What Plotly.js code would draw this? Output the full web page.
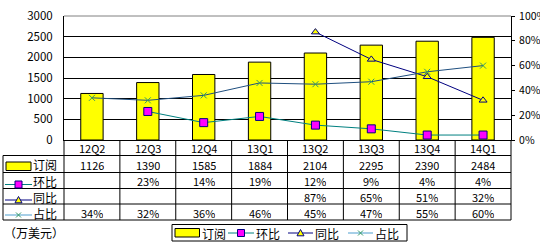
<!DOCTYPE html>
<html><head><meta charset="utf-8">
<script src="https://cdn.plot.ly/plotly-3.0.1.min.js"></script>
<style>html,body{margin:0;padding:0;background:#fff;}#chart{width:540px;height:246px;}</style>
</head><body><div id="chart"></div>
<script>
const categories = ['12Q2','12Q3','12Q4','13Q1','13Q2','13Q3','13Q4','14Q1'];
const subscriptions = [1126,1390,1585,1884,2104,2295,2390,2484];
const qoqPct = [null,23,14,19,12,9,4,4];
const yoyPct = [null,null,null,null,87,65,51,32];
const sharePct = [34,32,36,46,45,47,55,60];
const seriesNames = ['订阅','环比','同比','占比'];
const unitLabel = '（万美元）';
const leftTicks = [0,500,1000,1500,2000,2500,3000];
const rightTicks = [0,0.2,0.4,0.6,0.8,1.0];

const FONT = 'Noto Sans CJK SC, Noto Sans, sans-serif';
const L=64, R=511, T=16, B=140, W=R-L, H=B-T;
const px = x => (x-L)/W;
const py = y => (B-y)/H;

const cBar='#FFFF00', cQoqLine='#008080', cQoqMk='#FF00FF', cNavy='#000080', cShareLine='#1F4F7F', cShareMk='#339966';

const traces = [
  {type:'bar', name:seriesNames[0], x:categories, y:subscriptions, width:0.4,
   marker:{color:cBar, line:{color:'#000', width:1}}, yaxis:'y', hoverinfo:'skip'},
  {type:'scatter', mode:'lines+markers', name:seriesNames[1], x:categories, y:qoqPct.map(v=>v==null?null:v/100),
   yaxis:'y2', line:{color:cQoqLine, width:1}, marker:{symbol:'square', size:8, color:cQoqMk, line:{color:cNavy,width:1}}},
  {type:'scatter', mode:'lines+markers', name:seriesNames[2], x:categories, y:yoyPct.map(v=>v==null?null:v/100),
   yaxis:'y2', line:{color:cNavy, width:1}, marker:{symbol:'triangle-up', size:7, color:cBar, line:{color:cNavy,width:1}}},
  {type:'scatter', mode:'lines+markers', name:seriesNames[3], x:categories, y:sharePct.map(v=>v/100),
   yaxis:'y2', line:{color:cShareLine, width:1}, marker:{symbol:'x-thin', size:6, color:cShareMk, line:{color:cShareMk,width:1}}}
];

const shapes = [];
const annotations = [];
const ln = (x0,y0,x1,y1,color,w) => shapes.push({type:'line', xref:'paper', yref:'paper', x0:px(x0), y0:py(y0), x1:px(x1), y1:py(y1), line:{color:color||'#000', width:w||1}});

// plot top border
ln(L,T,R,T,'#808080');
// table grid
const rowLines = [155.5,172.5,188.5,204,220];
rowLines.forEach(y=>ln(3,y,R,y));
ln(3,155.5,3,220);
ln(L,B,L,220);
ln(R,B,R,220);
for (let i=0;i<categories.length-1;i++){
  shapes.push({type:'line', xref:'x', yref:'paper', x0:i+0.5, x1:i+0.5, y0:py(B), y1:py(220), line:{color:'#000',width:1}});
}

// icons
function iconBar(x0,x1,y0,y1){ shapes.push({type:'rect', xref:'paper', yref:'paper', x0:px(x0), x1:px(x1), y0:py(y0), y1:py(y1), fillcolor:cBar, line:{color:'#000',width:1}}); }
function iconSquare(cx,cy,s){ shapes.push({type:'rect', xref:'paper', yref:'paper', x0:px(cx-s), x1:px(cx+s), y0:py(cy-s), y1:py(cy+s), fillcolor:cQoqMk, line:{color:cNavy,width:1}}); }
function iconTri(cx,cy,s){ shapes.push({type:'path', xref:'paper', yref:'paper', path:`M ${px(cx-s)},${py(cy+s*0.8)} L ${px(cx+s)},${py(cy+s*0.8)} L ${px(cx)},${py(cy-s)} Z`, fillcolor:cBar, line:{color:cNavy,width:1}}); }
function iconX(cx,cy,s){ ln(cx-s,cy-s,cx+s,cy+s,cShareMk); ln(cx-s,cy+s,cx+s,cy-s,cShareMk); }
function legendItem(k,x0,x1,cy){
  if(k===0){ iconBar(x0,x1,cy-4.5,cy+4); return; }
  const col = k===1?cQoqLine:(k===2?cNavy:'#4F9FCF');
  ln(x0,cy,x1,cy,col);
  const cx=(x0+x1)/2;
  if(k===1) iconSquare(cx,cy,3.5);
  if(k===2) iconTri(cx,cy,3.5);
  if(k===3) iconX(cx,cy,2.5);
}
function txt(x,y,text,anchor,size,xref){
  annotations.push({xref:xref||'paper', yref:'paper', x: xref==='x'?x:px(x), y:py(y), text:text, showarrow:false,
    xanchor:anchor||'center', yanchor:'middle', height:14, borderpad:0,
    font:{family:FONT, size:size||11, color:'#000'}});
}

// table row labels
const rowIcon = [[6,31,166.5],[5,32,184.5],[5,32,200],[5,32,215]];
const rowText = [164,180.5,196.5,212.5];
seriesNames.forEach((n,k)=>{
  legendItem(k,rowIcon[k][0],rowIcon[k][1],rowIcon[k][2]);
  txt(31.5,rowText[k],n,'left',12);
});
// header & values
categories.forEach((c,i)=>{
  txt(i,148,c,'center',11,'x');
  txt(i,164.5,String(subscriptions[i]),'center',11,'x');
  txt(i,181,qoqPct[i]==null?'':qoqPct[i]+'%','center',11,'x');
  txt(i,197,yoyPct[i]==null?'':yoyPct[i]+'%','center',11,'x');
  txt(i,213,sharePct[i]+'%','center',11,'x');
});
txt(3,232,unitLabel,'left',12);

// bottom legend
shapes.push({type:'rect', xref:'paper', yref:'paper', x0:px(172), x1:px(407), y0:py(224.5), y1:py(241), fillcolor:'#fff', line:{color:'#000',width:1}});
const legX = [[175,199.5,201],[228,254,255],[288,313,314],[348,373,374]];
seriesNames.forEach((n,k)=>{
  legendItem(k,legX[k][0],legX[k][1],233);
  txt(legX[k][2],232.5,n,'left',12);
});

const layout = {
  width:540, height:246, margin:{l:L, r:540-R, t:T, b:246-B, pad:0},
  paper_bgcolor:'#fff', plot_bgcolor:'#fff', showlegend:false, bargap:0.6,
  font:{family:FONT, size:11, color:'#000'},
  xaxis:{type:'category', range:[-0.5,7.5], showticklabels:false, ticks:'', showgrid:false, zeroline:false,
    showline:true, linecolor:'#000', linewidth:1, fixedrange:true},
  yaxis:{range:[0,3000], tickvals:leftTicks, ticktext:leftTicks.map(String), showgrid:true, gridcolor:'#000', gridwidth:1,
    zeroline:false, showline:true, linecolor:'#000', linewidth:1, ticks:'', ticklabelstandoff:8,
    tickfont:{family:FONT, size:11.5}},
  yaxis2:{overlaying:'y', side:'right', range:[0,1], tickvals:rightTicks, ticktext:rightTicks.map(v=>Math.round(v*100)+'%'),
    showgrid:false, zeroline:false, showline:true, linecolor:'#000', linewidth:1, ticks:'outside', ticklen:3, tickcolor:'#000',
    ticklabelstandoff:2, tickfont:{family:FONT, size:10.5}},
  shapes:shapes, annotations:annotations
};
Plotly.newPlot('chart', traces, layout, {staticPlot:true, displayModeBar:false});
</script></body></html>
